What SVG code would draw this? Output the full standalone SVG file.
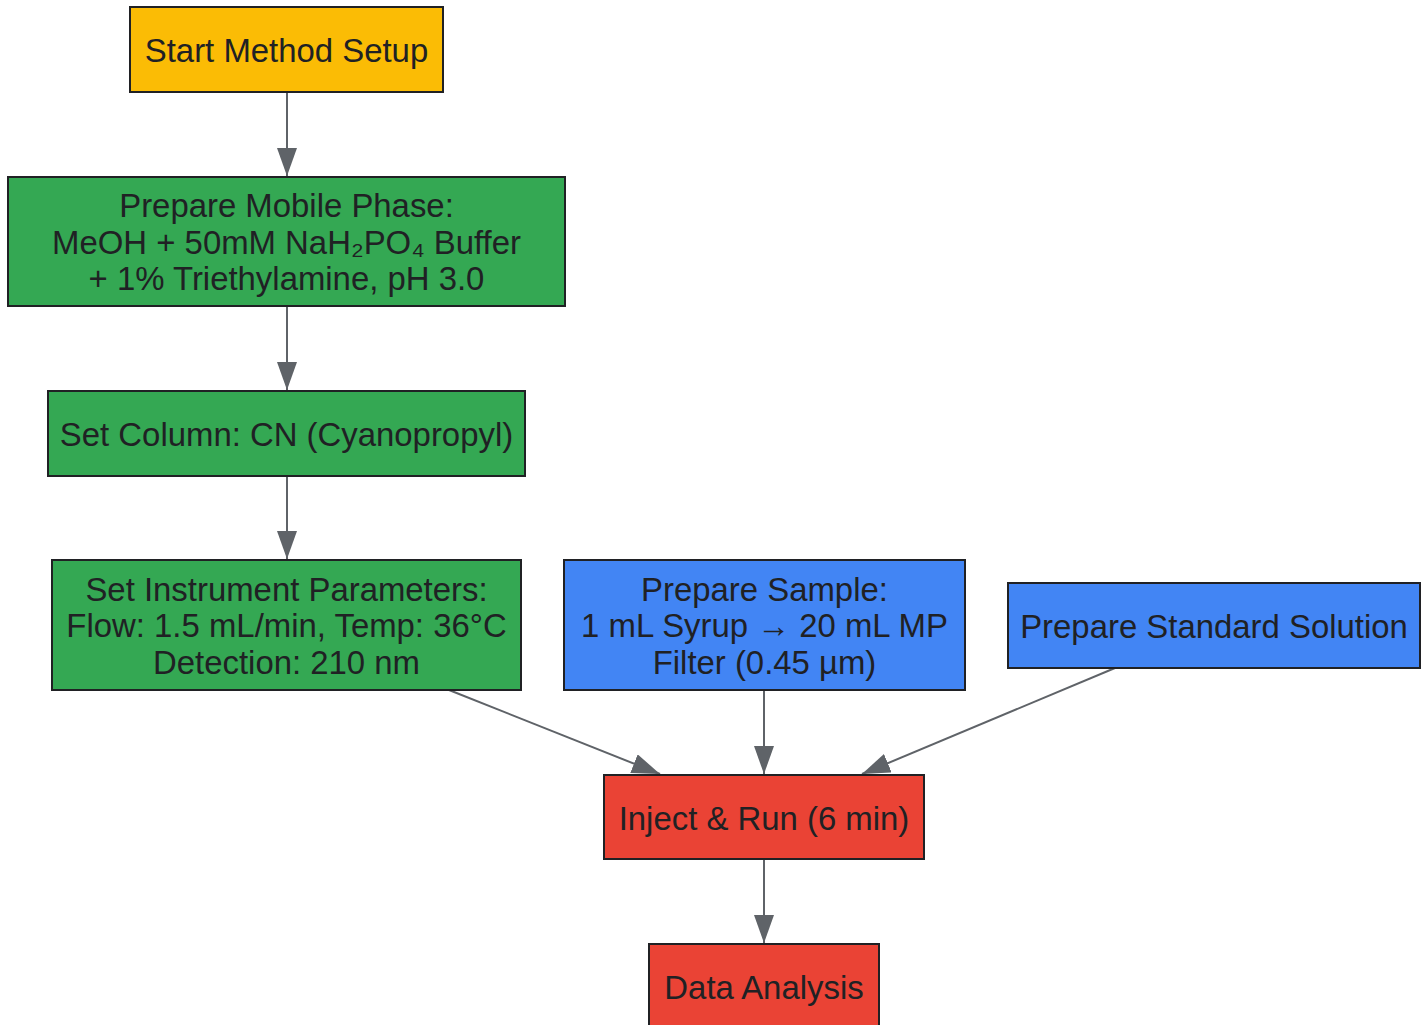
<svg xmlns="http://www.w3.org/2000/svg" width="1428" height="1025" viewBox="0 0 1428 1025">
<style>
.n rect{stroke:#202124;stroke-width:2}
.n text{font-family:"Liberation Sans",Arial,sans-serif;font-size:32.9px;fill:#202124;text-anchor:middle}
.y{fill:#FBBC05}.g{fill:#34A853}.b{fill:#4285F4}.r{fill:#EA4335}
.e line{stroke:#5F6368;stroke-width:2;marker-end:url(#ah)}
</style>
<defs>
<marker id="ah" markerUnits="userSpaceOnUse" markerWidth="30" markerHeight="22" refX="28" refY="10" orient="auto" viewBox="0 0 30 22">
<path d="M0,0 L28,10 L0,20 Z" fill="#5F6368"/>
</marker>
</defs>
<rect width="1428" height="1025" fill="#fff"/>
<g id="edges" class="e">
<line x1="287" y1="92" x2="287" y2="176"/>
<line x1="287" y1="306" x2="287" y2="390"/>
<line x1="287" y1="476" x2="287" y2="559"/>
<line x1="449" y1="690" x2="660" y2="774"/>
<line x1="764" y1="690" x2="764" y2="774"/>
<line x1="1115" y1="668" x2="862" y2="774"/>
<line x1="764" y1="859" x2="764" y2="943"/>
</g>
<g id="start" class="n"><rect class="y" x="130" y="7" width="313" height="85"/><text x="286.5" y="62">Start Method Setup</text></g>
<g id="mobile" class="n"><rect class="g" x="8" y="177" width="557" height="129"/><text x="286.5" y="217">Prepare Mobile Phase:</text><text x="286.5" y="253.5">MeOH + 50mM NaH₂PO₄ Buffer</text><text x="286.5" y="290">+ 1% Triethylamine, pH 3.0</text></g>
<g id="column" class="n"><rect class="g" x="48" y="391" width="477" height="85"/><text x="286.5" y="446">Set Column: CN (Cyanopropyl)</text></g>
<g id="instrument" class="n"><rect class="g" x="52" y="560" width="469" height="130"/><text x="286.5" y="600.5">Set Instrument Parameters:</text><text x="286.5" y="637">Flow: 1.5 mL/min, Temp: 36°C</text><text x="286.5" y="674">Detection: 210 nm</text></g>
<g id="sample" class="n"><rect class="b" x="564" y="560" width="401" height="130"/><text x="764.5" y="600.5">Prepare Sample:</text><text x="764.5" y="637">1 mL Syrup → 20 mL MP</text><text x="764.5" y="674">Filter (0.45 µm)</text></g>
<g id="standard" class="n"><rect class="b" x="1008" y="583" width="412" height="85"/><text x="1214" y="638">Prepare Standard Solution</text></g>
<g id="inject" class="n"><rect class="r" x="604" y="775" width="320" height="84"/><text x="764" y="830">Inject &amp; Run (6 min)</text></g>
<g id="data" class="n"><rect class="r" x="649" y="944" width="230" height="90"/><text x="764" y="999">Data Analysis</text></g>
</svg>
